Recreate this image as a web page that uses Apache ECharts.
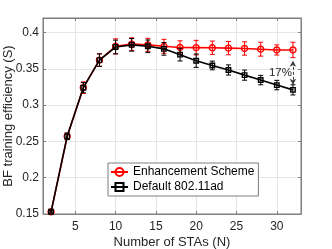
<!DOCTYPE html>
<html><head><meta charset="utf-8">
<script src="https://cdn.jsdelivr.net/npm/echarts@6/dist/echarts.min.js"></script>
<style>html,body{margin:0;padding:0;background:#fff}#c{width:332px;height:249px}</style>
</head><body><div id="c"></div>
<script>
const numSTAs = [2,4,6,8,10,12,14,16,18,20,22,24,26,28,30,32];
const enhancement = [0.153,0.257,0.324,0.362,0.381,0.384,0.383,0.381,0.3794,0.3792,0.379,0.3785,0.378,0.377,0.376,0.376];
const enhancementErr = [0.0015,0.0045,0.008,0.0087,0.0103,0.0087,0.009,0.0096,0.0092,0.01,0.0092,0.0092,0.0092,0.0096,0.007,0.0106];
const defaultAd = [0.153,0.257,0.324,0.362,0.380,0.383,0.381,0.3775,0.3695,0.3612,0.3546,0.3484,0.3413,0.3345,0.3276,0.321];
const defaultErr = [0.0015,0.0045,0.007,0.0085,0.0095,0.0087,0.0087,0.0087,0.0087,0.0092,0.006,0.007,0.007,0.0065,0.0065,0.007];
const xTicks = [5,10,15,20,25,30];
const yTicks = [0.15,0.2,0.25,0.3,0.35,0.4];
const seriesNames = ['Enhancement Scheme','Default 802.11ad'];
const gapLabel = '17%';
const gapArrowEnds = [0.361, 0.328];
const gapLabelValue = 0.345;

const FONT = '"Liberation Sans", Arial, Helvetica, sans-serif';
const TXT = '#262626';
const AX = '#7f7f7f';
const GRIDC = '#e6e6e6';

function errData(vals, errs){ return numSTAs.map((n,i)=>[n, vals[i]-errs[i], vals[i]+errs[i]]); }
function errSeries(name, vals, errs, color, z){
  return {
    type:'custom', name:name, z:z, clip:true,
    encode:{x:0, y:[1,2]},
    data: errData(vals, errs),
    renderItem:(params, api)=>{
      const x = api.value(0);
      const lo = api.coord([x, api.value(1)]);
      const hi = api.coord([x, api.value(2)]);
      const w = 2.5;
      const st = {stroke:color, lineWidth:1};
      return {type:'group', children:[
        {type:'line', shape:{x1:hi[0],y1:hi[1],x2:lo[0],y2:lo[1]}, style:st},
        {type:'line', shape:{x1:hi[0]-w,y1:hi[1],x2:hi[0]+w,y2:hi[1]}, style:st},
        {type:'line', shape:{x1:lo[0]-w,y1:lo[1],x2:lo[0]+w,y2:lo[1]}, style:st}
      ]};
    }
  };
}

const chart = echarts.init(document.getElementById('c'), null, {renderer:'canvas'});
chart.setOption({
  animation:false,
  backgroundColor:'#fff',
  textStyle:{fontFamily:FONT},
  grid:{left:43, right:31, top:18, bottom:35, show:true, borderColor:AX, borderWidth:1,
        containLabel:false, outerBoundsMode:'none'},
  legend:{
    data: seriesNames,
    orient:'vertical', left:108, top:163,
    backgroundColor:'#fff', borderColor:AX, borderWidth:1, borderRadius:0,
    padding:[3,4,3,2], itemGap:3, itemWidth:17, itemHeight:10,
    textStyle:{fontFamily:FONT, fontSize:12, color:'#000', lineHeight:12}
  },
  xAxis:[{
    type:'value', min:1, max:33, position:'bottom',
    name:'Number of STAs (N)', nameLocation:'middle', nameGap:22, nameMoveOverlap:false,
    nameTextStyle:{fontFamily:FONT, fontSize:13, color:TXT},
    axisLine:{show:true, onZero:false, lineStyle:{color:AX, width:1}},
    axisTick:{show:true, inside:true, length:3, customValues:xTicks, lineStyle:{color:AX}},
    axisLabel:{customValues:xTicks, fontFamily:FONT, fontSize:12, color:TXT, margin:7},
    splitLine:{show:true, lineStyle:{color:GRIDC, width:1}}
  },{
    type:'value', min:1, max:33, position:'top',
    axisLine:{show:true, onZero:false, lineStyle:{color:AX, width:1}},
    axisTick:{show:true, inside:true, length:3, customValues:xTicks, lineStyle:{color:AX}},
    axisLabel:{show:false}, splitLine:{show:false}
  }],
  yAxis:[{
    type:'value', min:0.15, max:0.42, position:'left',
    name:'BF training efficiency (S)', nameLocation:'middle', nameGap:28, nameMoveOverlap:false,
    nameTextStyle:{fontFamily:FONT, fontSize:13, color:TXT},
    axisLine:{show:true, onZero:false, lineStyle:{color:AX, width:1}},
    axisTick:{show:true, inside:true, length:3, customValues:yTicks, lineStyle:{color:AX}},
    axisLabel:{customValues:yTicks, fontFamily:FONT, fontSize:12, color:TXT, margin:4,
      formatter:v=>String(+v.toFixed(2))},
    splitLine:{show:true, lineStyle:{color:GRIDC, width:1}}
  },{
    type:'value', min:0.15, max:0.42, position:'right',
    axisLine:{show:true, onZero:false, lineStyle:{color:AX, width:1}},
    axisTick:{show:true, inside:true, length:3, customValues:yTicks, lineStyle:{color:AX}},
    axisLabel:{show:false}, splitLine:{show:false}
  }],
  series:[
    errSeries('errEnh', enhancement, enhancementErr, '#ff0000', 2),
    {
      type:'line', name:seriesNames[0], z:3,
      data: numSTAs.map((n,i)=>[n, enhancement[i]]),
      symbol:'circle', symbolSize:6,
      lineStyle:{color:'#ff0000', width:1.6},
      itemStyle:{color:'rgba(255,255,255,0)', borderColor:'#ff0000', borderWidth:1.4}
    },
    errSeries('errDef', defaultAd, defaultErr, '#000000', 4),
    {
      type:'line', name:seriesNames[1], z:5,
      data: numSTAs.map((n,i)=>[n, defaultAd[i]]),
      symbol:'rect', symbolSize:4.5,
      lineStyle:{color:'#000000', width:1.6},
      itemStyle:{color:'rgba(255,255,255,0)', borderColor:'#000000', borderWidth:1.4},
      markLine:{
        silent:true, symbol:['arrow','arrow'], symbolSize:[5,6],
        label:{show:false},
        lineStyle:{color:'#404040', type:[3,2], width:1},
        data:[[{coord:[numSTAs[numSTAs.length-1], gapArrowEnds[1]]},{coord:[numSTAs[numSTAs.length-1], gapArrowEnds[0]]}]]
      },
      markPoint:{
        silent:true, symbol:'circle', symbolSize:0,
        label:{show:true, position:'left', distance:1, formatter:gapLabel, fontFamily:FONT, fontSize:11.5, color:TXT},
        data:[{coord:[numSTAs[numSTAs.length-1], gapLabelValue]}]
      }
    }
  ]
});
</script></body></html>
